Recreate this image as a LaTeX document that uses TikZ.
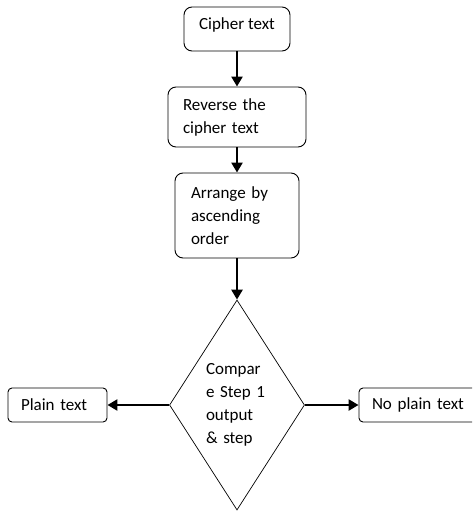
\documentclass[tikz,border=0pt]{standalone}
\usepackage{fontspec}
\setmainfont{Carlito}
\usetikzlibrary{arrows.meta,shapes.geometric}
\tikzset{
  every node/.style={font=\fontsize{17}{23}\selectfont, text=black},
  flow/.style={-{Triangle[length=10pt,width=11pt]}, draw=black,
    line width=2.4pt},
  box/.style={rectangle, draw=black, line width=0.9pt, rounded corners=8pt,
    align=left, inner ysep=0pt},
  endbox/.style={box, rounded corners=4pt, minimum height=34pt,
    inner xsep=13pt},
  decision/.style={diamond, draw=black, line width=0.7pt, inner sep=0pt,
    shape aspect=0.64, minimum width=135pt, minimum height=210pt,
    align=left, text width=62pt}
}

\begin{document}
\begin{tikzpicture}[x=1pt,y=-1pt]
  % Page frame; the right end box runs past the edge.
  \useasboundingbox (0,0) rectangle (472,511);
  \clip (0,0) rectangle (472,511);

  % Main column.
  \node[box, align=center, minimum width=106pt, text height=23pt,
    text depth=21pt] (cipher) at (237,29) {Cipher text};
  \node[box, inner xsep=15pt, text width=108pt, minimum height=60pt]
    (reverse) at (237,117) {Reverse the\\cipher text};
  \node[box, inner xsep=16pt, text width=92pt, minimum height=85pt]
    (arrange) at (237,215.5) {Arrange by\\ascending\\order};
  \node[decision] (compare) at (237,405)
    {Compar\\e~Step~1\\output\\\&~step};

  % Outcomes.
  \node[endbox, text width=73pt] (plain) at (57.5,405) {Plain text};
  \node[endbox, text width=94pt] (noplain) at (419,405) {No plain text};

  \draw[flow] (cipher) -- (reverse);
  \draw[flow] (reverse) -- (arrange);
  \draw[flow] (arrange) -- (compare);
  \draw[flow] (compare) -- (plain);
  \draw[flow] (compare) -- (noplain);
\end{tikzpicture}
\end{document}
